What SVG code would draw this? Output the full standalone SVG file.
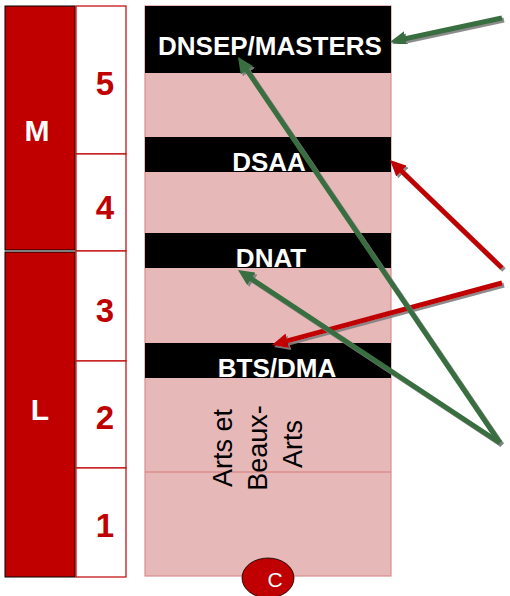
<svg xmlns="http://www.w3.org/2000/svg" width="510" height="596" viewBox="0 0 510 596">
<style>
.lvl{fill:#C00000;stroke:#000;stroke-width:1}
.num{fill:#fff;stroke:#C00000;stroke-width:1.2}
.numt{font-family:"Liberation Sans",Arial,sans-serif;font-weight:bold;font-size:33px;fill:#C00000;text-anchor:middle}
.lvlt{font-family:"Liberation Sans",Arial,sans-serif;font-weight:bold;font-size:30px;fill:#fff;text-anchor:middle}
.band{fill:#000}
.bandt{font-family:"Liberation Sans",Arial,sans-serif;font-weight:bold;font-size:26px;fill:#fff;text-anchor:middle}
.vt{font-family:"Liberation Sans",Arial,sans-serif;font-size:27px;fill:#000;text-anchor:middle}
.g{stroke:#376E3F;stroke-width:5;fill:none;stroke-linecap:butt;filter:url(#sh)}
.r{stroke:#C00000;stroke-width:5;fill:none;stroke-linecap:butt;filter:url(#sh)}
</style>
<defs>
<filter id="sh" x="-20%" y="-20%" width="140%" height="140%">
<feDropShadow dx="2" dy="2" stdDeviation="0.6" flood-color="#7f7f7f" flood-opacity="0.9"/>
</filter>
<marker id="ag" markerUnits="userSpaceOnUse" markerWidth="16" markerHeight="15" refX="4" refY="7.5" orient="auto">
<path d="M0,0 L16,7.5 L0,15 z" fill="#376E3F"/>
</marker>
<marker id="ar" markerUnits="userSpaceOnUse" markerWidth="16" markerHeight="15" refX="4" refY="7.5" orient="auto">
<path d="M0,0 L16,7.5 L0,15 z" fill="#C00000"/>
</marker>
</defs>
<rect width="510" height="596" fill="#fff"/>

<g id="level-M"><rect class="lvl" x="5" y="6" width="70" height="244"/><text class="lvlt" x="37" y="141">M</text></g>
<g id="level-L"><rect class="lvl" x="5" y="252" width="70" height="325"/><text class="lvlt" x="40" y="420">L</text></g>

<g id="year-5"><rect class="num" x="76" y="6" width="50" height="148"/><text class="numt" x="105" y="95">5</text></g>
<g id="year-4"><rect class="num" x="76" y="154" width="50" height="97"/><text class="numt" x="105" y="219">4</text></g>
<g id="year-3"><rect class="num" x="76" y="251" width="50" height="110"/><text class="numt" x="105" y="322">3</text></g>
<g id="year-2"><rect class="num" x="76" y="361" width="50" height="107"/><text class="numt" x="105" y="429">2</text></g>
<g id="year-1"><rect class="num" x="76" y="468" width="50" height="109"/><text class="numt" x="105" y="537">1</text></g>

<g id="column">
<rect x="145" y="6" width="246" height="570" fill="#E6B8B7" stroke="#D98F8E" stroke-width="1.2"/>
<line x1="145" y1="472" x2="391" y2="472" stroke="#D98F8E" stroke-width="1.5"/>
</g>
<g id="dnsep"><rect class="band" x="145" y="6" width="246" height="67"/><text class="bandt" x="270" y="55">DNSEP/MASTERS</text></g>
<g id="dsaa"><rect class="band" x="145" y="137" width="246" height="35"/><text class="bandt" x="269" y="171">DSAA</text></g>
<g id="dnat"><rect class="band" x="145" y="233" width="246" height="35"/><text class="bandt" x="271" y="267">DNAT</text></g>
<g id="bts"><rect class="band" x="145" y="343" width="246" height="35"/><text class="bandt" x="277" y="377">BTS/DMA</text></g>
<g id="arts">
<text class="vt" transform="translate(232,448) rotate(-90)">Arts et</text>
<text class="vt" transform="translate(267,448) rotate(-90)">Beaux-</text>
<text class="vt" transform="translate(302,444) rotate(-90)">Arts</text>
</g>
<g id="c-badge"><ellipse cx="268" cy="578" rx="26" ry="20" fill="#C00000" stroke="#000" stroke-width="0.8"/><text x="275" y="587" font-family="'Liberation Sans',Arial,sans-serif" font-size="21" fill="#fff" text-anchor="middle">C</text></g>

<g id="connectors">
<line class="g" x1="502" y1="18" x2="401.7" y2="39.5" marker-end="url(#ag)"/>
<line class="r" x1="502" y1="268" x2="398.6" y2="168.3" marker-end="url(#ar)"/>
<line class="r" x1="502" y1="283" x2="283.6" y2="341.9" marker-end="url(#ar)"/>
<line class="g" x1="500" y1="443" x2="244.7" y2="66.9" marker-end="url(#ag)"/>
<line class="g" x1="500" y1="443" x2="248" y2="276.6" marker-end="url(#ag)"/>
</g>
</svg>
